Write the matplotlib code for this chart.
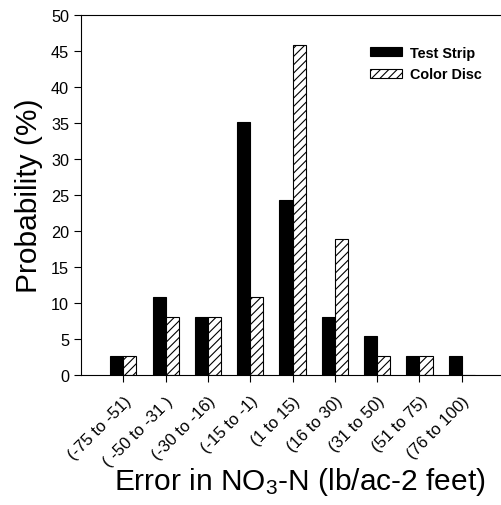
import numpy as np
import matplotlib
matplotlib.use('Agg')
import matplotlib.pyplot as plt
import matplotlib.transforms as mtransforms

plt.rcParams['font.family'] = ['Liberation Sans', 'DejaVu Sans']
plt.rcParams['mathtext.fontset'] = 'custom'
plt.rcParams['mathtext.rm'] = 'Liberation Sans'
plt.rcParams['mathtext.it'] = 'Liberation Sans'
plt.rcParams['hatch.linewidth'] = 0.8

cats = ['(-75 to -51)', '( -50 to -31 )', '(-30 to -16)', '(-15 to -1)', '(1 to 15)',
        '(16 to 30)', '(31 to 50)', '(51 to 75)', '(76 to 100)']
test_strip = [2.7, 10.8, 8.1, 35.1, 24.3, 8.1, 5.4, 2.7, 2.7]
color_disc = [2.7, 8.1, 8.1, 10.8, 45.9, 18.9, 2.7, 2.7, 0]

x = np.arange(len(cats))
w = 0.31

fig = plt.figure(figsize=(5.02, 5.06), dpi=100)
ax = fig.add_axes([0.1614, 0.2569, 0.8386, 0.7115])

ax.bar(x - w/2, test_strip, w, color='black', edgecolor='black', linewidth=0.8, label='Test Strip')
ax.bar(x + w/2, color_disc, w, color='white', edgecolor='black', linewidth=0.8,
       hatch='////', label='Color Disc')

ax.set_xlim(-1, 8.95)
ax.set_ylim(0, 50)
ax.set_yticks(np.arange(0, 51, 5))
ax.set_xticks(x)
ax.set_xticklabels(cats, rotation=45, ha='right', va='top', rotation_mode='anchor', fontsize=12)
shift = mtransforms.ScaledTranslation(9/72, 2/72, fig.dpi_scale_trans)
for lab in ax.get_xticklabels():
    lab.set_transform(lab.get_transform() + shift)
ax.tick_params(axis='y', labelsize=11.7, direction='out', length=5, width=0.8)
ax.tick_params(axis='x', direction='out', length=5, width=0.8, pad=8)
ax.spines['right'].set_visible(False)
for s in ['top', 'bottom', 'left']:
    ax.spines[s].set_linewidth(0.8)

ax.set_ylabel('Probability (%)', fontsize=21.5, labelpad=6)
ax.set_xlabel('Error in NO$_3$-N (lb/ac-2 feet)', fontsize=21.5, va='baseline')
ax.xaxis.set_label_coords(0.52, -0.317)

leg = ax.legend(loc='upper right', bbox_to_anchor=(0.968, 0.934), frameon=False, borderpad=0,
                prop={'weight': 'bold', 'size': 10.4}, handlelength=2.25, handleheight=0.6,
                handletextpad=0.5, labelspacing=0.5)

plt.savefig('out.png', dpi=100)
